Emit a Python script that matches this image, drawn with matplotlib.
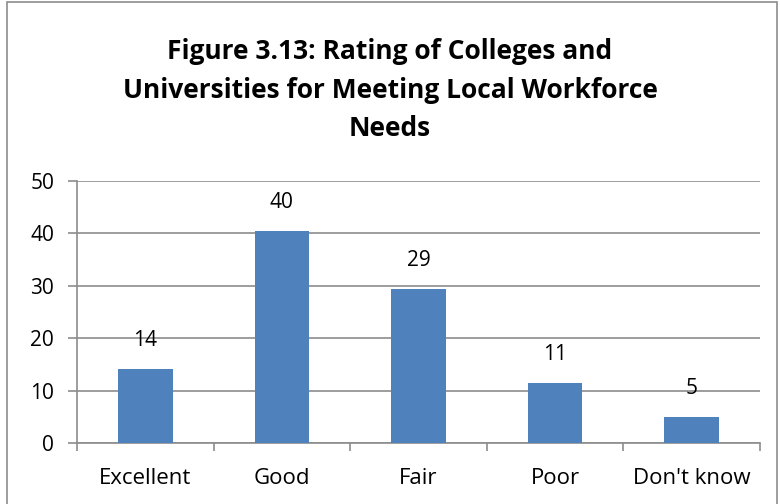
import matplotlib
matplotlib.use("Agg")
import matplotlib.pyplot as plt
from matplotlib.patches import Rectangle
import numpy as np

categories = ["Excellent", "Good", "Fair", "Poor", "Don't know"]
values = [14.1, 40.4, 29.4, 11.4, 5.0]
labels = ["14", "40", "29", "11", "5"]
yticks = [0, 10, 20, 30, 40, 50]

plt.rcParams['font.family'] = ['Open Sans', 'DejaVu Sans']

fig = plt.figure(figsize=(7.8, 5.04), dpi=100)
ax = fig.add_axes([77/780, 1-443/504, (760-77)/780, (443-181)/504])

x = np.arange(len(categories))
ax.bar(x, values, width=0.4, color="#4F81BD", zorder=3)
for xi, v, lab in zip(x, values, labels):
    ax.annotate(lab, (xi, v), xytext=(0, 20.5), textcoords="offset points",
                ha="center", va="center", fontsize=15, color="black")

ax.set_xlim(-0.5, len(categories) - 0.5)
ax.set_ylim(0, 50)
ax.set_yticks(yticks)
ax.set_yticklabels([str(t) for t in yticks], fontsize=15)
ax.yaxis.grid(True, color="#8c8c8c", linewidth=1.2, zorder=0)
ax.set_axisbelow(True)

ax.set_xticks(x)
ax.set_xticklabels(categories, fontsize=16)
ax.tick_params(axis="x", length=0, pad=18)
ax.set_xticks(np.arange(-0.5, len(categories), 1), minor=True)
ax.tick_params(axis="x", which="minor", length=6, color="#8c8c8c", width=1.2)
ax.tick_params(axis="y", length=6.5, color="#8c8c8c", width=1.2, pad=10)

for s in ["top", "right"]:
    ax.spines[s].set_visible(False)
for s in ["left", "bottom"]:
    ax.spines[s].set_color("#8c8c8c")
    ax.spines[s].set_linewidth(1.2)

fig.text(0.5, 1-90/504, "Figure 3.13: Rating of Colleges and\nUniversities for Meeting Local Workforce\nNeeds",
         ha="center", va="center", fontsize=19, fontweight="bold", linespacing=1.55)

fig.patches.append(Rectangle((7/780, -0.01), (777-7)/780, 1-2/504+0.01, transform=fig.transFigure,
                             fill=False, edgecolor="#8c8c8c", linewidth=1.2))

fig.savefig("out.png", dpi=100)
